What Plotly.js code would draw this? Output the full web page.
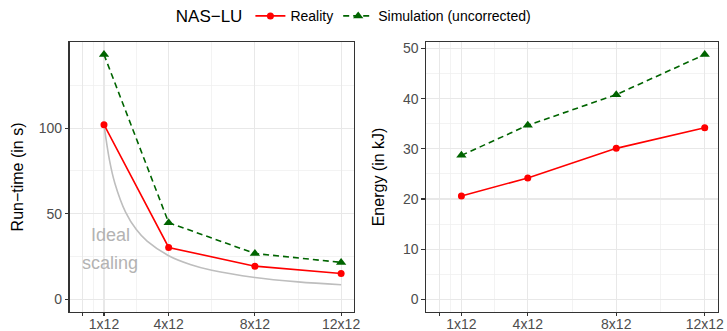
<!DOCTYPE html>
<html>
<head>
<meta charset="utf-8">
<script src="https://cdn.plot.ly/plotly-3.0.1.min.js"></script>
<style>html,body{margin:0;padding:0;background:#fff;}#chart{width:727px;height:331px;}</style>
</head>
<body>
<div id="chart"></div>
<script>
// Data
const nodes = [1, 4, 8, 12];
const tickVals = [0, 1, 4, 8, 12];
const tickLabels = ["", "1x12", "4x12", "8x12", "12x12"];
const runtimeReality = [102, 30.3, 19.4, 15.1];
const runtimeSimulation = [143, 44.8, 26.8, 21.6];
const energyReality = [20.6, 24.2, 30.1, 34.2];
const energySimulation = [28.7, 34.7, 40.8, 48.8];
const idealX = [1, 1.25, 1.5, 2, 2.5, 3, 4, 5, 6, 8, 10, 12];
const idealY = [102, 81.6, 68, 51, 40.8, 34, 25.5, 20.4, 17, 12.8, 10.2, 8.5];

const red = "#FF0000";
const green = "#006400";
const font = "Liberation Sans, Arial, sans-serif";

const traces = [
  {x: idealX, y: idealY, xaxis: "x", yaxis: "y", mode: "lines", line: {color: "#BEBEBE", width: 1.6, shape: "spline"}, showlegend: false, hoverinfo: "skip"},
  {x: nodes, y: runtimeReality, xaxis: "x", yaxis: "y", mode: "lines+markers", name: "Reality", legendgroup: "r",
   line: {color: red, width: 1.6}, marker: {color: red, size: 7, symbol: "circle"}},
  {x: nodes, y: runtimeSimulation, xaxis: "x", yaxis: "y", mode: "lines+markers", name: "Simulation (uncorrected)", legendgroup: "s",
   line: {color: green, width: 1.6, dash: "6px,4px"}, marker: {color: green, size: 9, symbol: "triangle-up"}},
  {x: nodes, y: energyReality, xaxis: "x2", yaxis: "y2", mode: "lines+markers", name: "Reality", legendgroup: "r", showlegend: false,
   line: {color: red, width: 1.6}, marker: {color: red, size: 7, symbol: "circle"}},
  {x: nodes, y: energySimulation, xaxis: "x2", yaxis: "y2", mode: "lines+markers", name: "Simulation (uncorrected)", legendgroup: "s", showlegend: false,
   line: {color: green, width: 1.6, dash: "6px,4px"}, marker: {color: green, size: 9, symbol: "triangle-up"}}
];

const grid = {gridcolor: "#E8E8E8", gridwidth: 1.2};
const minorGrid = {gridcolor: "#EEEEEE", gridwidth: 0.7};

function xax(domain, anchor) {
  return {
    domain: domain, anchor: anchor, range: [-0.6, 12.6],
    tickmode: "array", tickvals: tickVals, ticktext: tickLabels,
    ticks: "outside", ticklen: 3.5, tickwidth: 1.1, tickcolor: "#333333",
    tickfont: {family: font, size: 14, color: "#4D4D4D"}, ticklabelstandoff: -4,
    showgrid: true, gridcolor: grid.gridcolor, gridwidth: grid.gridwidth,
    minor: {tickmode: "array", tickvals: [0.5, 2.5, 6, 10], showgrid: true, gridcolor: minorGrid.gridcolor, gridwidth: minorGrid.gridwidth, ticks: ""},
    showline: true, linecolor: "#333333", linewidth: 1.2, mirror: true, zeroline: false, fixedrange: true
  };
}
function yax(domain, anchor, range, major, minorVals, title, standoff) {
  return {
    domain: domain, anchor: anchor, range: range,
    tickmode: "array", tickvals: major,
    ticks: "outside", ticklen: 3.5, tickwidth: 1.1, tickcolor: "#333333",
    tickfont: {family: font, size: 14, color: "#4D4D4D"},
    showgrid: true, gridcolor: grid.gridcolor, gridwidth: grid.gridwidth,
    minor: {tickmode: "array", tickvals: minorVals, showgrid: true, gridcolor: minorGrid.gridcolor, gridwidth: minorGrid.gridwidth, ticks: ""},
    showline: true, linecolor: "#333333", linewidth: 1.2, mirror: true, zeroline: false, fixedrange: true,
    title: {text: title, font: {family: font, size: 16, color: "#000000"}, standoff: standoff}
  };
}

const yd = [0.0589, 0.8776];
const layout = {
  width: 727, height: 331,
  margin: {l: 0, r: 0, t: 0, b: 0},
  paper_bgcolor: "#FFFFFF", plot_bgcolor: "#FFFFFF",
  font: {family: font},
  xaxis: xax([0.0956, 0.487], "y"),
  yaxis: yax(yd, "x", [-7.15, 150.15], [0, 50, 100], [25, 75, 125], "Run\u2212time (in s)", 11),
  xaxis2: xax([0.586, 0.9876], "y2"),
  yaxis2: yax(yd, "x2", [-2.44, 51.24], [0, 10, 20, 30, 40, 50], [5, 15, 25, 35, 45], "Energy (in kJ)", 14),
  showlegend: true,
  legend: {
    orientation: "h", x: 0.488, xanchor: "center", y: 0.955, yanchor: "middle",
    font: {family: font, size: 14, color: "#000000"},
    title: {text: "NAS\u2212LU", font: {family: font, size: 17, color: "#000000"}, side: "left"},
    itemwidth: 30, tracegroupgap: 0, bgcolor: "rgba(0,0,0,0)"
  },
  annotations: [
    {xref: "x", yref: "y", x: 1.28, y: 37.8, text: "Ideal", showarrow: false,
     font: {family: font, size: 18, color: "#B3B3B3"}, align: "center"},
    {xref: "x", yref: "y", x: 1.28, y: 21.5, text: "scaling", showarrow: false,
     font: {family: font, size: 18, color: "#B3B3B3"}, align: "center"}
  ]
};

Plotly.newPlot("chart", traces, layout, {displayModeBar: false, staticPlot: true});
</script>
</body>
</html>
